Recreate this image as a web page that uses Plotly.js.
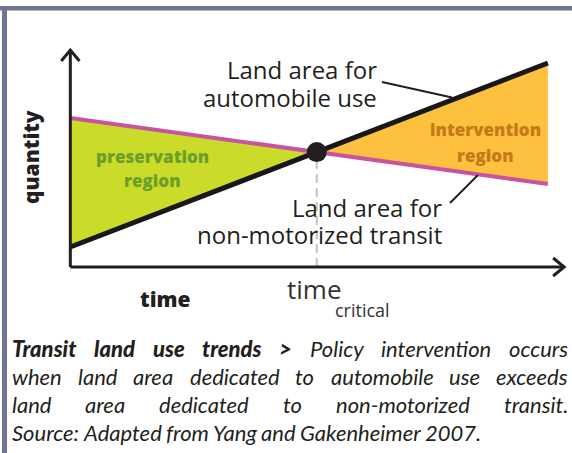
<!DOCTYPE html>
<html>
<head>
<meta charset="utf-8">
<script src="https://cdn.plot.ly/plotly-3.0.1.min.js"></script>
<style>body{margin:0;background:#fff}</style>
</head>
<body>
<div id="chart" style="width:572px;height:453px"></div>
<script>
// schematic chart: time runs 0..10, quantity is unitless
var timeSpan = [0, 10];
var autoUse = [1.0, 10.2];        // land area for automobile use (start, end)
var nonMotorized = [7.45, 4.15];  // land area for non-motorized transit (start, end)

var captionBold = "Transit land use trends >";
var captionLines = [
  "Policy intervention occurs",
  "when land area dedicated to automobile use exceeds",
  "land area dedicated to non-motorized transit.",
  "Source: Adapted from Yang and Gakenheimer 2007."
];

// where the two lines cross = time critical
var slopeA = (autoUse[1] - autoUse[0]) / (timeSpan[1] - timeSpan[0]);
var slopeN = (nonMotorized[1] - nonMotorized[0]) / (timeSpan[1] - timeSpan[0]);
var tCrit = timeSpan[0] + (nonMotorized[0] - autoUse[0]) / (slopeA - slopeN);
var qCrit = autoUse[0] + slopeA * (tCrit - timeSpan[0]);

var W = 572, H = 453;
var M = {l: 56, r: 5, t: 45, b: 174};
var PW = W - M.l - M.r, PH = H - M.t - M.b;
// pixel -> paper helpers for the decorations outside the plot
function px(x) { return (x - M.l) / PW; }
function py(y) { return (H - M.b - y) / PH; }

var ink = '#231f20';

var data = [
  {
    x: [timeSpan[0], tCrit, timeSpan[0]],
    y: [autoUse[0], qCrit, nonMotorized[0]],
    fill: 'toself', fillcolor: '#cbdb2a',
    mode: 'lines', line: {width: 0}, hoverinfo: 'skip'
  },
  {
    x: [tCrit, timeSpan[1], timeSpan[1]],
    y: [qCrit, autoUse[1], nonMotorized[1]],
    fill: 'toself', fillcolor: '#fdc13f',
    mode: 'lines', line: {width: 0}, hoverinfo: 'skip'
  },
  {
    x: [tCrit, tCrit],
    y: [0, qCrit],
    mode: 'lines', line: {color: '#c2c2c2', width: 2, dash: '9px,5px'}
  },
  {
    x: timeSpan, y: nonMotorized,
    mode: 'lines', line: {color: '#c8539f', width: 4}
  },
  {
    x: timeSpan, y: autoUse,
    mode: 'lines', line: {color: '#1a1718', width: 5}
  },
  {
    x: [tCrit], y: [qCrit],
    mode: 'markers', marker: {size: 20, color: ink}
  }
];

var shapes = [
  // frame
  {type: 'rect', xref: 'paper', yref: 'paper', x0: px(0), x1: px(572), y0: py(6), y1: py(10.5),
    fillcolor: '#6f7394', line: {width: 0}},
  {type: 'rect', xref: 'paper', yref: 'paper', x0: px(2), x1: px(7), y0: py(6), y1: py(453),
    fillcolor: '#6f7394', line: {width: 0}},
  // axes with open arrow heads
  {type: 'line', x0: 0, x1: 0, y0: 0, y1: 10.85, line: {color: ink, width: 3}},
  {type: 'line', x0: 0, x1: 10.34, y0: 0, y1: 0, line: {color: ink, width: 3}},
  {type: 'path', path: 'M -0.19,10.3 L 0,10.85 L 0.19,10.3', line: {color: ink, width: 3}},
  {type: 'path', path: 'M 10.11,0.45 L 10.34,0 L 10.11,-0.45', line: {color: ink, width: 3}},
  // leader lines
  {type: 'line', xref: 'paper', yref: 'paper', x0: px(382), y0: py(82), x1: px(452), y1: py(97.5),
    line: {color: ink, width: 2}},
  {type: 'line', xref: 'paper', yref: 'paper', x0: px(450), y0: py(203), x1: px(478), y1: py(175),
    line: {color: ink, width: 2}}
];

function label(text, x, y, size, opts) {
  var a = {
    text: text, xref: 'paper', yref: 'paper', x: px(x), y: py(y),
    showarrow: false, xanchor: 'center', yanchor: 'middle',
    borderpad: 0, borderwidth: 0,
    font: {family: 'Open Sans', size: size, color: ink}
  };
  for (var k in opts) {
    if (k == 'font') Object.assign(a.font, opts.font); else a[k] = opts[k];
  }
  return a;
}

var heavy = {weight: 800};
var annotations = [
  label('Land area for', 377, 69, 24, {xanchor: 'right'}),
  label('automobile use', 377, 97, 24, {xanchor: 'right'}),
  label('Land area for', 442, 207, 24, {xanchor: 'right'}),
  label('non-motorized transit', 442, 234, 24, {xanchor: 'right'}),
  label('preservation', 152, 156, 17, {font: {color: '#6aa02a', weight: 800}}),
  label('region', 152, 181, 17, {font: {color: '#6aa02a', weight: 800}}),
  label('intervention', 485, 129, 17, {font: {color: '#c47a16', weight: 800}}),
  label('region', 485, 155, 17, {font: {color: '#c47a16', weight: 800}}),
  label('quantity', 31, 157, 21, {textangle: -90, font: heavy}),
  label('time', 165, 299, 21, {font: heavy}),
  label('time', 314, 289, 26, {font: {color: '#333333'}}),
  label('critical', 362, 310, 18, {font: {color: '#333333'}})
];

// caption: justified italic text, one annotation per word
var capFont = 'Lato';
var ctx = document.createElement('canvas').getContext('2d');
function textWidth(s, bold, size) {
  ctx.font = 'italic ' + (bold ? '900 ' : '') + size + 'px "' + capFont + '"';
  return ctx.measureText(s).width;
}
var lines = captionLines.map(function (l, i) {
  var words = l.split(' ').map(function (w) { return {t: w, b: false}; });
  if (i == 0) {
    words = captionBold.split(' ').map(function (w) { return {t: w, b: true}; }).concat(words);
  }
  return words;
});
var capLeft = 12, capRight = 568, capTop = 348, capStep = 28;
var capSize = 22;
lines.forEach(function (words) {
  // allow slightly tight word spacing on the longest line
  var natural = words.reduce(function (s, w) { return s + textWidth(w.t, w.b, 20); }, 0) +
      (words.length - 1) * 0.8 * textWidth(' ', false, 20);
  capSize = Math.min(capSize, 20 * (capRight - capLeft) / natural);
});
lines.forEach(function (words, i) {
  var sum = words.reduce(function (s, w) { return s + textWidth(w.t, w.b, capSize); }, 0);
  var gap = (i < lines.length - 1) ? (capRight - capLeft - sum) / (words.length - 1)
                                   : 0.85 * textWidth(' ', false, capSize);
  var x = capLeft;
  words.forEach(function (w) {
    annotations.push(label(w.t, x, capTop + i * capStep, capSize, {
      xanchor: 'left',
      font: {family: capFont, style: 'italic', weight: w.b ? 900 : 400}
    }));
    x += textWidth(w.t, w.b, capSize) + gap;
  });
});

var layout = {
  width: W, height: H,
  margin: M,
  paper_bgcolor: '#ffffff', plot_bgcolor: 'rgba(0,0,0,0)',
  showlegend: false,
  xaxis: {range: [-0.3, 10.4], visible: false, fixedrange: true},
  yaxis: {range: [-0.6, 11.1], visible: false, fixedrange: true},
  shapes: shapes,
  annotations: annotations
};

Plotly.newPlot('chart', data, layout, {staticPlot: true});
</script>
</body>
</html>
